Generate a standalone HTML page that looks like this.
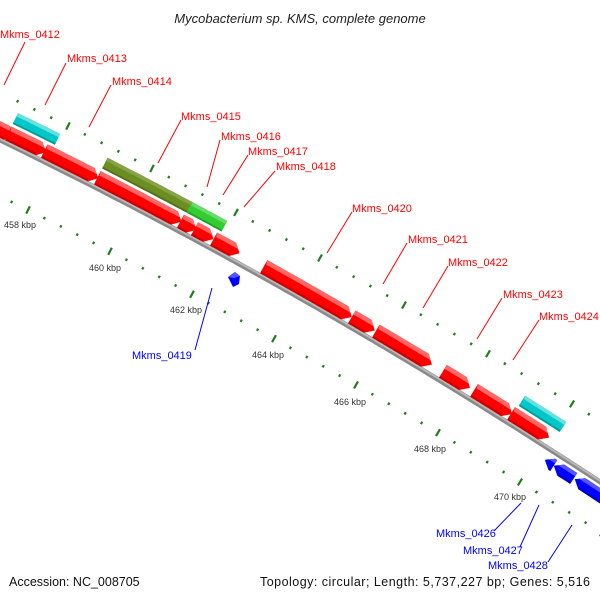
<!DOCTYPE html>
<html><head><meta charset="utf-8"><style>
html,body{margin:0;padding:0;background:#fff;}
svg{display:block;}
text{font-family:"Liberation Sans","DejaVu Sans",sans-serif;}
.r{fill:#ff0000;font-size:11px;}
.b{fill:#0000ff;font-size:11px;}
.k{fill:#333;font-size:9px;}
</style></head><body>
<svg id="s" width="600" height="600" viewBox="0 0 600 600" xmlns="http://www.w3.org/2000/svg">
<g id="g"></g>
<g stroke="#ff0000" stroke-width="1">
<line x1="25" y1="42" x2="4" y2="85"/>
<line x1="66" y1="63" x2="45" y2="105"/>
<line x1="111" y1="85" x2="89" y2="127"/>
<line x1="181" y1="120" x2="158" y2="163"/>
<line x1="220" y1="140" x2="207" y2="187"/>
<line x1="248" y1="155" x2="223" y2="195"/>
<line x1="275" y1="171" x2="244" y2="207"/>
<line x1="352" y1="212" x2="327" y2="253"/>
<line x1="407" y1="243" x2="383" y2="284"/>
<line x1="448" y1="266" x2="423" y2="308"/>
<line x1="502" y1="298" x2="477" y2="339"/>
<line x1="539" y1="320" x2="513" y2="360"/>
</g>
<g stroke="#0000ff" stroke-width="1">
<line x1="195" y1="350" x2="212" y2="288"/>
<line x1="494" y1="531" x2="521" y2="503"/>
<line x1="520" y1="547" x2="539" y2="505"/>
<line x1="548" y1="562" x2="572" y2="525"/>
</g>
<text x="300" y="23" text-anchor="middle" font-size="13" font-style="italic" fill="#222">Mycobacterium sp. KMS, complete genome</text>
<text class="r" x="0" y="38">Mkms_0412</text>
<text class="r" x="67" y="62">Mkms_0413</text>
<text class="r" x="112" y="85">Mkms_0414</text>
<text class="r" x="181" y="120">Mkms_0415</text>
<text class="r" x="221" y="140">Mkms_0416</text>
<text class="r" x="248" y="155">Mkms_0417</text>
<text class="r" x="276" y="170">Mkms_0418</text>
<text class="r" x="352" y="212">Mkms_0420</text>
<text class="r" x="408" y="243">Mkms_0421</text>
<text class="r" x="448" y="266">Mkms_0422</text>
<text class="r" x="503" y="298">Mkms_0423</text>
<text class="r" x="539" y="320">Mkms_0424</text>
<text class="b" x="132" y="359">Mkms_0419</text>
<text class="b" x="436" y="537">Mkms_0426</text>
<text class="b" x="463" y="554">Mkms_0427</text>
<text class="b" x="488" y="569">Mkms_0428</text>
<text class="k" x="4" y="228">458 kbp</text>
<text class="k" x="89" y="271">460 kbp</text>
<text class="k" x="170" y="313">462 kbp</text>
<text class="k" x="252" y="358">464 kbp</text>
<text class="k" x="334" y="405">466 kbp</text>
<text class="k" x="414" y="452">468 kbp</text>
<text class="k" x="494" y="500">470 kbp</text>
<text x="9" y="586" font-size="12.5" fill="#111">Accession: NC_008705</text>
<text x="260" y="586" font-size="12.5" fill="#111" textLength="330" lengthAdjust="spacing">Topology: circular; Length: 5,737,227 bp; Genes: 5,516</text>
</svg>
<script>
(function(){
var NS="http://www.w3.org/2000/svg",g=document.getElementById("g");
function el(n,a){var e=document.createElementNS(NS,n);for(var k in a)e.setAttribute(k,a[k]);g.appendChild(e);return e;}
function Y(x){return 140+0.484*x+0.000143*x*x;}
function S(x){return 0.484+0.000286*x;}
function P(x,o){var s=S(x),n=Math.sqrt(1+s*s);return [x+o*s/n,Y(x)-o/n];}
function pts(a){return a.map(function(p){return p[0].toFixed(1)+","+p[1].toFixed(1);}).join(" ");}
function band(x1,x2,o1,o2,dir,head){
  var a=[],step=2,x;
  var hx1=x1,hx2=x2;
  if(dir==1)hx2=Math.max(x1,x2-head);
  if(dir==-1)hx1=Math.min(x2,x1+head);
  var om=(o1+o2)/2;
  for(x=hx1;x<=hx2;x+=step)a.push(P(x,o2));a.push(P(hx2,o2));
  if(dir==1)a.push(P(x2,om));
  for(x=hx2;x>=hx1;x-=step)a.push(P(x,o1));a.push(P(hx1,o1));
  if(dir==-1)a.push(P(x1,om));
  return a;
}
function feat(x1,x2,o1,o2,dir,c,l,d){
  var head=7;
  el("polygon",{points:pts(band(x1,x2,o1,o2,dir,head)),fill:c});
  var t=o2-(o2-o1)*0.3;
  var a=[],x,hx1=x1,hx2=x2;
  if(dir==1)hx2=Math.max(x1,x2-head);if(dir==-1)hx1=Math.min(x2,x1+head);
  var f=(o2-t)/((o2-o1)/2);
  for(x=hx1;x<=hx2;x+=2)a.push(P(x,o2));a.push(P(hx2,o2));
  if(dir==1)a.push(P(hx2+head*f,t));
  for(x=hx2;x>=hx1;x-=2)a.push(P(x,t));
  if(dir==-1)a.push(P(hx1-head*f,t));
  el("polygon",{points:pts(a),fill:l});
  var b=[],u=o1+(o2-o1)*0.15;
  for(x=hx1;x<=hx2;x+=2)b.push(P(x,u));
  for(x=hx2;x>=hx1;x-=2)b.push(P(x,o1));
  el("polygon",{points:pts(b),fill:d});
}
var bb=[],bt=[],x;
for(x=-5;x<=605;x+=5){bb.push(P(x,0));}
el("polyline",{points:pts(bb),fill:"none",stroke:"#8a8a8a","stroke-width":5});
for(x=-5;x<=605;x+=5){bt.push(P(x,1));}
el("polyline",{points:pts(bt),fill:"none",stroke:"#b8b8b8","stroke-width":2});
function ring(a,b,c,x0,step,n,major){
  for(var i=0;i<n;i++){
    var xx=x0+i*step;if(xx>602)break;
    var yy=a+b*xx+c*xx*xx,s=b+2*c*xx,nn=Math.sqrt(1+s*s),ux=s/nn,uy=-1/nn;
    var L=((i%5)==major)?4:1.3;
    el("line",{x1:(xx-ux*L).toFixed(1),y1:(yy-uy*L).toFixed(1),x2:(xx+ux*L).toFixed(1),y2:(yy+uy*L).toFixed(1),stroke:"#1f7f1f","stroke-width":2.2});
  }
}
ring(92.8,0.481,0.00011,17.6,16.8,40,3);
ring(196.3,0.487,0.00012,11.6,16.4,40,1);
var R=[[-14,10],[4,42],[40,94],[93,177],[176,192],[190,209],[209,235],[259,347],[347,370],[371,427],[438,465],[469,507],[506,544]];
R.forEach(function(r){feat(r[0],r[1],2,17,1,"#ff0000","#ff6666","#cc0000");});
feat(4,46,20,32,0,"#00c8c8","#66e0e0","#009a9a");
feat(508,549,20,32,0,"#00c8c8","#66e0e0","#009a9a");
feat(93,179,20,32,0,"#6b8e23","#86a447","#556f1b");
feat(177,212,20,32,0,"#33cc33","#66dd66","#22a022");
feat(551,560,-18,-5,-1,"#0000ff","#5555ff","#0000bb");
feat(560,580,-18,-5,-1,"#0000ff","#5555ff","#0000bb");
feat(581,620,-18,-5,-1,"#0000ff","#5555ff","#0000bb");
el("polygon",{points:"228,277 235,272 240,276 239,284 233,287",fill:"#0000ff"});
el("polygon",{points:"228,277 235,272 240,276 234,278",fill:"#5555ff"});
})();
</script>
</body></html>
